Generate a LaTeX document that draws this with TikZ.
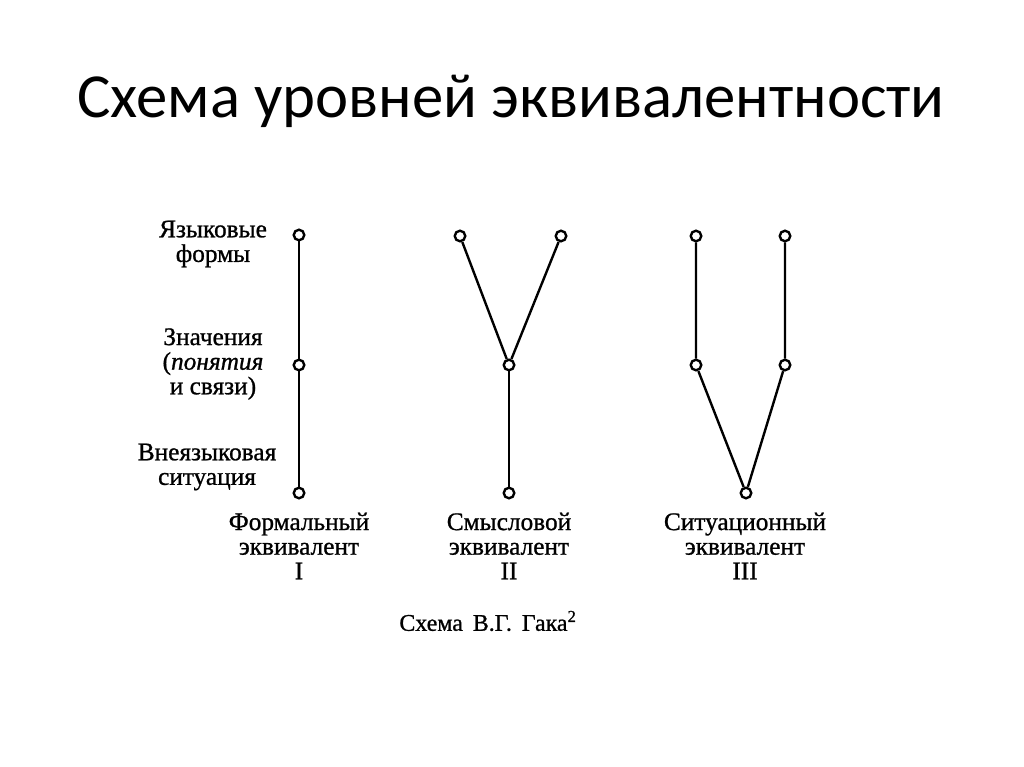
\documentclass[tikz,border=0pt]{standalone}
\usepackage{fontspec}
\setmainfont{Liberation Serif}[FakeBold=0.9]
\newfontfamily\titlefont{Carlito}
\begin{document}
\begin{tikzpicture}[x=0.025cm,y=-0.025cm,
  pt/.style={circle,draw,line width=1.7pt,fill=white,inner sep=0pt,minimum size=7.5pt},
  ln/.style={line width=1.7pt},
  lbl/.style={align=center,font=\fontsize{18}{17.5}\selectfont,inner sep=0pt}]
\useasboundingbox (0,0) rectangle (1024,767);
\node[font=\titlefont\fontsize{44.6}{50}\selectfont] (title) at (511,101) {Схема уровней эквивалентности};
% column I
\node[pt] (a1) at (299,235) {};
\node[pt] (a2) at (299,365) {};
\node[pt] (a3) at (299,493) {};
% column II
\node[pt] (b1) at (460,236) {};
\node[pt] (b2) at (561,236) {};
\node[pt] (b3) at (509,365) {};
\node[pt] (b4) at (509,493) {};
% column III
\node[pt] (c1) at (696,236) {};
\node[pt] (c2) at (785,236) {};
\node[pt] (c3) at (696,365) {};
\node[pt] (c4) at (785,365) {};
\node[pt] (c5) at (746,493) {};
\draw[ln] (a1) -- (a2) -- (a3);
\draw[ln] (b1) -- (b3);
\draw[ln] (b2) -- (b3);
\draw[ln] (b3) -- (b4);
\draw[ln] (c1) -- (c3) -- (c5);
\draw[ln] (c2) -- (c4) -- (c5);
% left labels
\node[lbl] (l1) at (213,244) {Языковые\\формы};
\node[lbl] (l2) at (213,364) {Значения\\(\textit{понятия}\\и связи)};
\node[lbl] (l3) at (207,467) {Внеязыковая\\ситуация};
% bottom labels
\node[lbl] (t1) at (299,546) {Формальный\\эквивалент\\I};
\node[lbl] (t2) at (509,546) {Смысловой\\эквивалент\\II};
\node[lbl] (t3) at (745,546) {Ситуационный\\эквивалент\\III};
\node[font=\fontsize{17}{20}\selectfont] (cap) at (488,621) {Схема\ \,В.Г.\ \,Гака\textsuperscript{2}};
\end{tikzpicture}
\end{document}
